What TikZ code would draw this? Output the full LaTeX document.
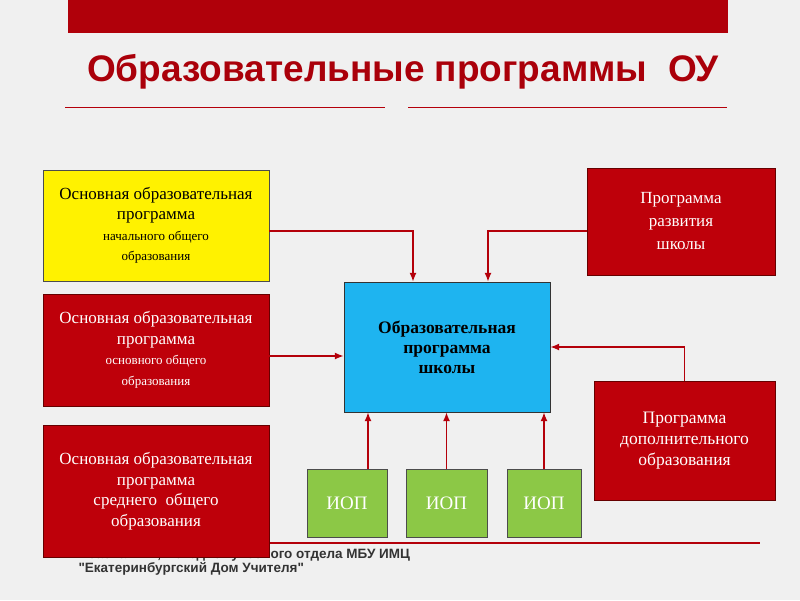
\documentclass[tikz,border=0pt]{standalone}
\usepackage{fontspec}
\setmainfont{Liberation Serif}
\newfontfamily\hsans{Liberation Sans}
\usetikzlibrary{arrows.meta}
\definecolor{bar}{RGB}{176,0,10}
\definecolor{boxred}{RGB}{190,0,10}
\definecolor{ttl}{RGB}{170,0,10}
\definecolor{arrc}{RGB}{180,0,10}
\definecolor{iopg}{RGB}{140,200,70}
\definecolor{cyanb}{RGB}{30,180,240}
\begin{document}
\begin{tikzpicture}[x=1pt,y=-1pt,
  redbox/.style={draw=red!40!black,fill=boxred,text=white,align=center,inner sep=0pt,font=\fontsize{17}{20.5}\selectfont},
  iop/.style={draw=black!70,fill=iopg,text=white,align=center,inner sep=0pt,font=\fontsize{19}{21}\selectfont},
  arr/.style={draw=arrc,line width=1.5pt,-{Latex[length=9pt,width=7pt]}}]
\fill[gray!12] (0,0) rectangle (800,600);
\useasboundingbox (0,0) rectangle (800,600);
\fill[bar] (68,0) rectangle (728,33);
\node[font=\hsans\bfseries\fontsize{37}{40}\selectfont,text=ttl] (title) at (403,72) {Образовательные программы\ \ ОУ};
\draw[arrc,line width=1pt] (65,107) -- (385,107) (408,107) -- (727,107);
\node[font=\hsans\bfseries\fontsize{13.5}{14.5}\selectfont,text=black!80,anchor=north west,align=left] (foot) at (75,545) {Исаева И.В., методист учебного отдела МБУ ИМЦ\\"Екатеринбургский Дом Учителя"};
\node[draw=black!70,fill=yellow,align=center,inner sep=0pt,minimum width=226,minimum height=111,font=\fontsize{17}{20.5}\selectfont] (a) at (156,225.5) {Основная образовательная\\программа\\{\fontsize{13}{20}\selectfont начального общего}\\{\fontsize{13}{19}\selectfont образования}};
\node[redbox,minimum width=226,minimum height=112] (b) at (156,350) {Основная образовательная\\программа\\{\fontsize{13}{20}\selectfont основного общего}\\{\fontsize{13}{19}\selectfont образования}};
\node[redbox,minimum width=226,minimum height=132] (c) at (156,491) {Основная образовательная\\программа\\среднего\ \ общего\\образования};
\node[draw=black!80,fill=cyanb,align=center,inner sep=0pt,minimum width=206,minimum height=130,font=\bfseries\fontsize{17.5}{20}\selectfont] (m) at (447,347) {Образовательная\\программа\\школы};
\node[redbox,minimum width=188,minimum height=107,font=\fontsize{17}{23}\selectfont] (r1) at (681,221.5) {Программа\\развития\\школы};
\node[redbox,minimum width=181,minimum height=119,font=\fontsize{17.5}{21}\selectfont] (r2) at (684.5,440.5) {Программа\\дополнительного\\образования};
\node[iop,minimum width=80,minimum height=68] (i1) at (347,503) {ИОП};
\node[iop,minimum width=81,minimum height=68] (i2) at (446.5,503) {ИОП};
\node[iop,minimum width=74,minimum height=68] (i3) at (544,503) {ИОП};
\draw[arr] (a.east |- 0,231) -| (m.north -| 413,0);
\draw[arr] (r1.west |- 0,231) -| (m.north -| 488,0);
\draw[arr] (b.east |- 0,356) -- (m.west |- 0,356);
\draw[arr] (r2.north) |- (m.east |- 0,347);
\draw[arr] (i1.north -| 368,0) -- (m.south -| 368,0);
\draw[arr] (i2.north) -- (m.south -| 446.5,0);
\draw[arr] (i3.north) -- (m.south -| 544,0);
\draw[arrc,line width=1.5pt] (270,543) -- (760,543);
\end{tikzpicture}
\end{document}
